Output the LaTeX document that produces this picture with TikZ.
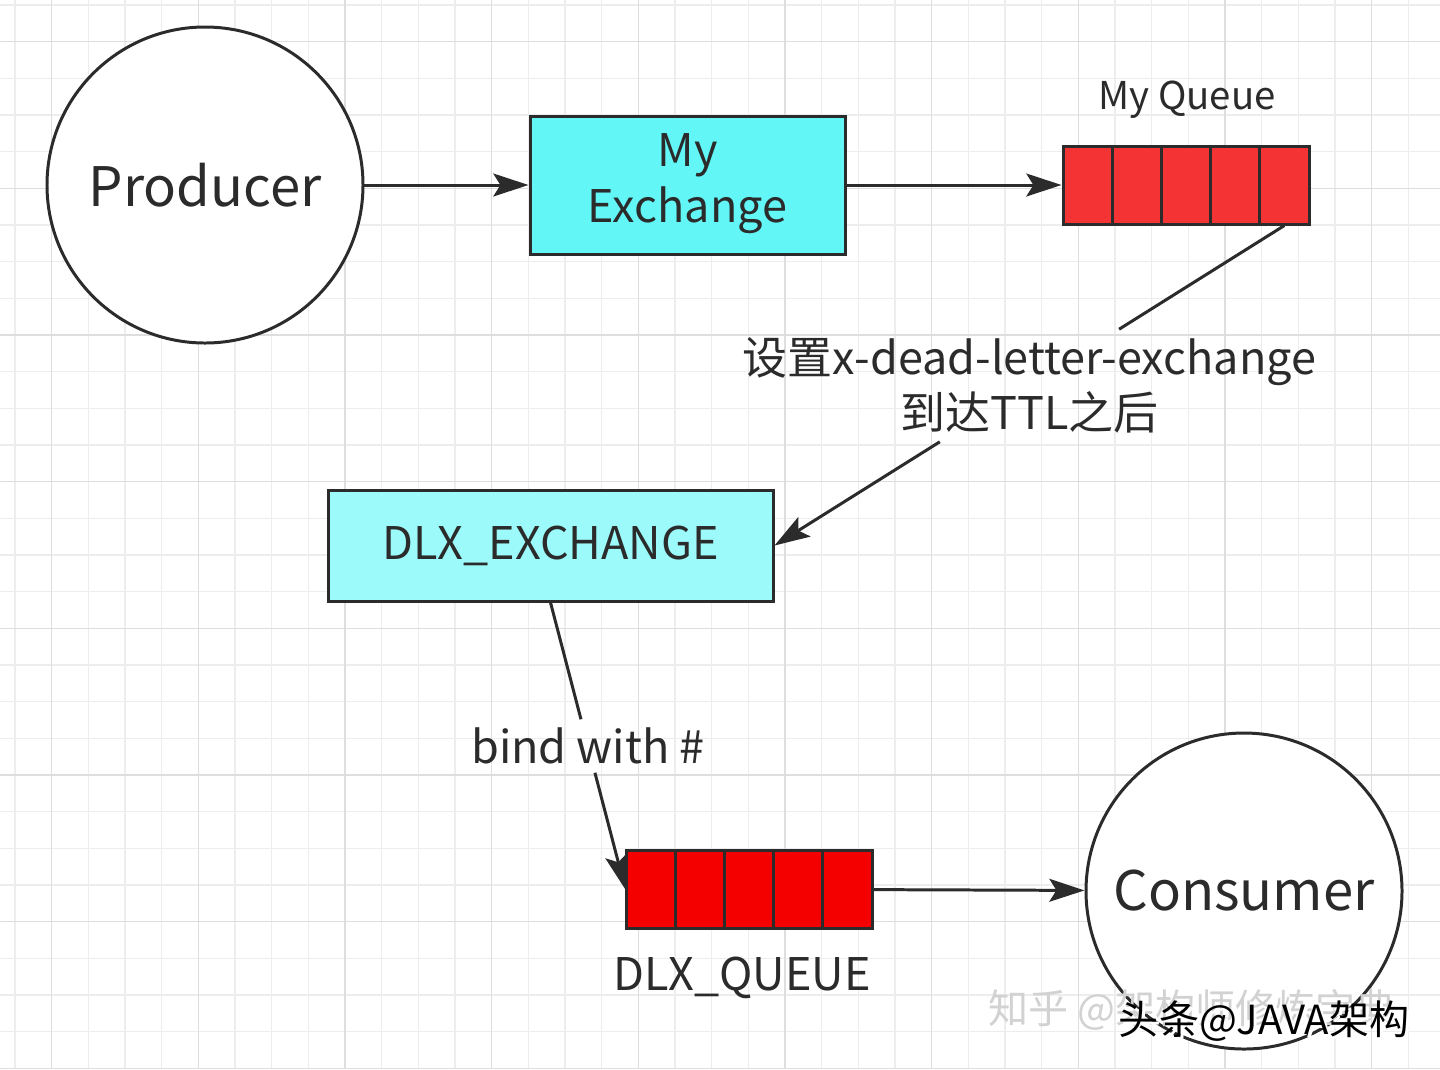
\documentclass[tikz,border=0pt]{standalone}
\usepackage{fontspec}
\setmainfont{Noto Sans CJK SC}
\usetikzlibrary{arrows.meta}
\definecolor{exfill}{HTML}{62F6F6}
\definecolor{dlxfill}{HTML}{9CFAFA}
\definecolor{qfill}{HTML}{F43434}
\definecolor{dqfill}{HTML}{F40000}
\definecolor{edge}{HTML}{2B2B2B}
\definecolor{gridmin}{HTML}{EDEDED}
\definecolor{gridmaj}{HTML}{DEDEDE}
\newcommand\fsz[2]{\fontsize{#1}{#2}\selectfont}
\begin{document}
\begin{tikzpicture}[x=0.1mm,y=-0.1mm,line width=0.85pt,draw=edge,
           every node/.style={inner sep=2pt,text=edge,font=\fsz{12.8}{15.6}},
           >={Stealth[length=10pt,width=6.5pt,inset=2pt]},
           actor/.style={circle,draw=edge,fill=white,minimum size=31.6mm,
             font=\fsz{15.5}{18}},
           exbox/.style={rectangle,draw=edge,align=center},
           cell/.style={rectangle,draw=edge,fill=qfill,minimum width=4.92mm,
             minimum height=7.8mm}]
           \useasboundingbox[fill=white](0,0)rectangle(1440,1069);
           \foreach \i in {0,...,38}
             \draw[gridmin,line width=0.35pt]({15+36.667*\i},0)--++(0,1069);
           \foreach \j in {0,...,29}
             \draw[gridmin,line width=0.35pt](0,{5+36.667*\j})--++(1440,0);
           \foreach \i in {0,...,9}
             \draw[gridmaj,line width=0.45pt]({51.667+146.667*\i},0)--++(0,1069);
           \foreach \j in {0,...,7}
             \draw[gridmaj,line width=0.45pt](0,{41.667+146.667*\j})--++(1440,0);
           \node[actor](prod)at(205,185){Producer};
           \node[exbox,fill=exfill,minimum width=31.5mm,minimum height=13.8mm,
             font=\fsz{12.8}{16.2}](myex)at(687.5,185){My\\Exchange\rule[-4pt]{0pt}{0pt}};
           \foreach \k in {0,...,4}
             \node[cell](mq\k)at({1087.6+49.2*\k},185){};
           \node[font=\fsz{10.9}{13}](mqlab)at(1187,100){My Queue};
           \node[exbox,fill=dlxfill,minimum width=44.5mm,minimum height=11.1mm]
             (dlx)at(550.5,545.5){DLX\_EXCHANGE};
           \foreach \k in {0,...,4}
             \node[cell,fill=dqfill](dq\k)at({651.5+49*\k},889.5){};
           \node(dqlab)at(742,978){DLX\_QUEUE};
           \node[actor](cons)at(1244,891){Consumer};
           \draw[->](prod)--(myex);
           \draw[->](myex)--(mq0);
           \path(mq4.south)--(dlx.east)node[midway,align=center](ttl)
             {设置x-dead-letter-exchange\\到达TTL之后};
           \draw(mq4.south)--(ttl);
           \draw[->](ttl)--(dlx.east);
           \path(dlx.south)--(dq0.west)node[midway](bind){bind with \#};
           \draw(dlx.south)--(bind);
           \draw[->](bind)--(dq0.west);
           \draw[->](dq4)--(cons);
           \node[font=\fsz{11.4}{13},text=gray!35](zhihu)at(1192,1010)
             {知乎 @架构师修炼宝典};
           \node[font=\fsz{11.4}{13},text=white](toutiao')at(1267,1024)
             {头条@JAVA架构};
           \node[font=\fsz{11.4}{13},text=black](toutiao)at(1264,1021)
             {头条@JAVA架构};
         \end{tikzpicture}
\end{document}
